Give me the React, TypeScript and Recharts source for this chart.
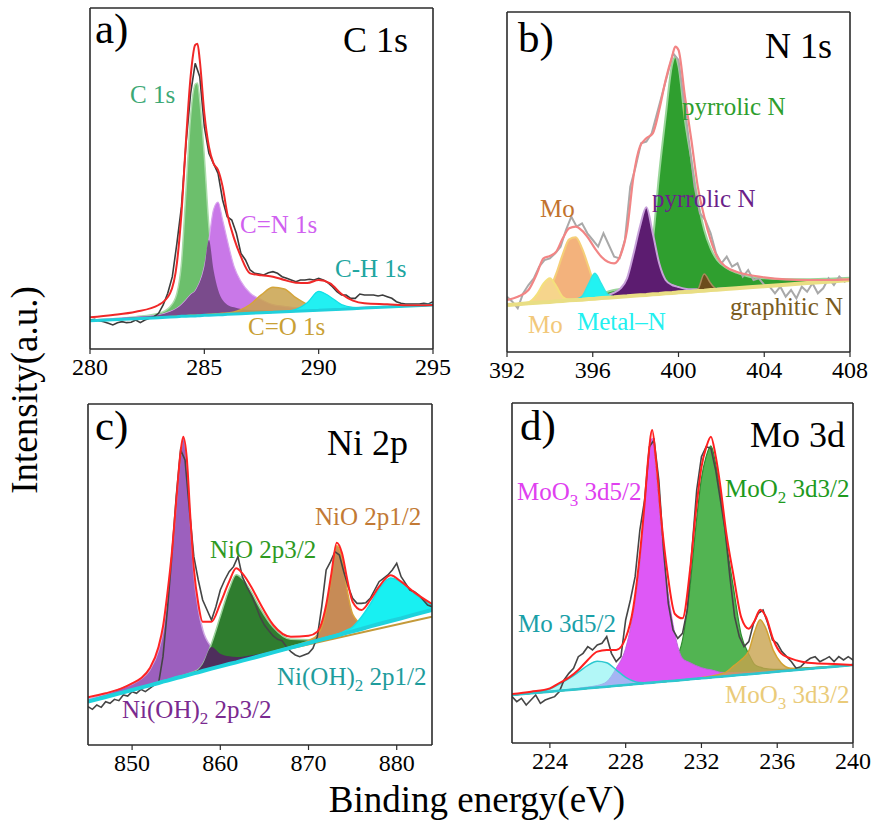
import React from 'react';
import { ComposedChart, XAxis, YAxis, Area, Line } from 'recharts';

const FONT = "'Liberation Serif', 'Times New Roman', Times, serif";
const AX = '#2b2b2b';

// ---------------- Panel a: C 1s ----------------
const A_E = [280, 281, 282, 283, 283.5, 283.8, 284, 284.2, 284.4, 284.6, 284.7, 284.8, 285, 285.2, 285.4, 285.6, 285.8, 286, 286.3, 286.6, 287, 287.5, 288, 288.5, 289, 289.5, 290, 290.5, 291, 291.5, 292, 293, 294, 295];
const A_BASE = [8.5, 8.8, 9.1, 9.4, 9.6, 9.7, 9.8, 9.8, 9.9, 9.9, 10.0, 10.0, 10.1, 10.1, 10.2, 10.3, 10.3, 10.4, 10.5, 10.6, 10.7, 10.9, 11.0, 11.2, 11.3, 11.5, 11.6, 11.8, 11.9, 12.1, 12.3, 12.6, 12.9, 13.2];
const A_C1S = [0.2, 0.3, 0.6, 1.3, 3.1, 7.0, 16.0, 37.9, 59.9, 69.5, 69.8, 64.7, 47.7, 26.6, 13.6, 7.5, 4.4, 2.9, 2.0, 1.4, 1.0, 0.7, 0.5, 0.4, 0.3, 0.3, 0.2, 0.2, 0.2, 0.1, 0.1, 0.1, 0.1, 0.1];
const A_CN = [0.2, 0.3, 0.5, 0.8, 1.6, 2.5, 3.5, 4.9, 6.4, 7.5, 8.6, 10.0, 14.5, 22.6, 31.6, 33.8, 28.4, 22.4, 14.3, 9.7, 6.1, 3.9, 2.3, 1.6, 1.1, 0.8, 0.6, 0.5, 0.4, 0.3, 0.3, 0.2, 0.2, 0.1];
const A_CO = [0, 0, 0.1, 0.1, 0.1, 0.1, 0.1, 0.2, 0.2, 0.2, 0.2, 0.2, 0.2, 0.3, 0.3, 0.3, 0.4, 0.4, 0.6, 1.2, 2.6, 5.4, 7.5, 6.8, 4.1, 1.9, 0.8, 0.4, 0.2, 0.1, 0.1, 0, 0, 0];
const A_CH = [0, 0, 0, 0, 0, 0, 0, 0, 0, 0, 0, 0, 0, 0, 0, 0, 0, 0, 0, 0, 0, 0, 0, 0.1, 0.6, 2.4, 5.7, 3.9, 1.4, 0.4, 0.1, 0, 0, 0];
const A_FIT = [9.5, 10.2, 11.2, 13.2, 16.7, 25.7, 40.7, 62.7, 81.7, 91.2, 91.6, 86.7, 70.7, 60.7, 55.7, 53.7, 48.7, 40.7, 33.2, 27.7, 22.7, 22.1, 21.7, 20.7, 19.9, 19.8, 20.7, 19.7, 16.5, 14.5, 13.7, 13.4, 13.1, 13.2];
const A_RAW_E = [280, 280.2, 280.4, 280.6, 280.8, 281, 281.2, 281.4, 281.6, 281.8, 282, 282.2, 282.4, 282.6, 282.8, 283, 283.2, 283.4, 283.6, 283.8, 284, 284.2, 284.4, 284.6, 284.8, 285, 285.2, 285.4, 285.6, 285.8, 286, 286.2, 286.4, 286.6, 286.8, 287, 287.2, 287.4, 287.6, 287.8, 288, 288.2, 288.4, 288.6, 288.8, 289, 289.2, 289.4, 289.6, 289.8, 290, 290.2, 290.4, 290.6, 290.8, 291, 291.2, 291.4, 291.6, 291.8, 292, 292.2, 292.4, 292.6, 292.8, 293, 293.2, 293.4, 293.6, 293.8, 294, 294.2, 294.4, 294.6, 294.8, 295];
const A_RAW = [8.7, 8.9, 8.5, 8.2, 7.7, 7.2, 7.9, 8.2, 7.9, 8.0, 8.7, 7.9, 8.7, 9.2, 9.7, 10.7, 13.2, 16.7, 21.7, 31.7, 42.7, 61.7, 76.7, 85.7, 81.7, 66.7, 58.7, 55.7, 52.7, 44.7, 39.7, 38.7, 34.7, 28.7, 26.7, 23.7, 22.7, 22.5, 22.2, 22.9, 23.2, 22.7, 21.7, 21.2, 20.7, 20.2, 20.7, 20.7, 20.9, 20.7, 21.2, 20.7, 19.9, 18.7, 17.2, 16.2, 16.2, 15.2, 15.2, 16.5, 16.2, 16.2, 16.2, 15.9, 16.2, 15.7, 15.2, 14.2, 13.7, 13.5, 13.5, 13.5, 13.5, 13.7, 13.5, 14.2];
const A_OVER = A_C1S.map((v, i) => Math.min(v, A_CN[i]));
const A_MAJOR = [280, 285, 290, 295];
const A_MINOR = [282.5, 287.5, 292.5];
const A_TOP = [282.5, 285, 287.5, 290, 292.5];
const A_YTICKS = [13.6, 27.2, 40.8, 54.4, 68.0, 81.6, 95.2];

// ---------------- Panel b: N 1s ----------------
const B_E = [392, 392.5, 393, 393.4, 393.7, 394, 394.3, 394.6, 394.9, 395.2, 395.5, 395.8, 396.1, 396.4, 396.7, 397, 397.3, 397.6, 397.9, 398.2, 398.5, 398.8, 399.1, 399.4, 399.7, 399.85, 400, 400.3, 400.6, 400.9, 401.2, 401.5, 401.8, 402.2, 402.7, 403.3, 404, 405, 406, 407, 408];
const B_BASE = [14.1, 14.3, 14.6, 14.8, 14.9, 15.0, 15.2, 15.3, 15.5, 15.6, 15.7, 15.9, 16.0, 16.2, 16.3, 16.4, 16.6, 16.7, 16.9, 17.0, 17.1, 17.3, 17.4, 17.6, 17.7, 17.8, 17.9, 18.0, 18.1, 18.3, 18.4, 18.6, 18.7, 18.9, 19.1, 19.4, 19.7, 20.2, 20.7, 21.1, 21.6];
const B_MO1 = [0, 0.1, 0.3, 2.5, 5.6, 7.1, 4.5, 1.2, 0.2, 0, 0, 0, 0, 0, 0, 0, 0, 0, 0, 0, 0, 0, 0, 0, 0, 0, 0, 0, 0, 0, 0, 0, 0, 0, 0, 0, 0, 0, 0, 0, 0];
const B_MO2 = [0, 0, 0.1, 0.4, 1.5, 4.0, 8.4, 14.0, 18.3, 18.8, 15.4, 9.7, 4.0, 1.2, 0.3, 0, 0, 0, 0, 0, 0, 0, 0, 0, 0, 0, 0, 0, 0, 0, 0, 0, 0, 0, 0, 0, 0, 0, 0, 0, 0];
const B_MN = [0, 0, 0, 0, 0, 0, 0, 0, 0, 0.2, 1.0, 4.5, 7.6, 4.3, 1.0, 0.2, 0, 0, 0, 0, 0, 0, 0, 0, 0, 0, 0, 0, 0, 0, 0, 0, 0, 0, 0, 0, 0, 0, 0, 0, 0];
const B_PG = [0.1, 0.1, 0.1, 0.2, 0.2, 0.2, 0.3, 0.3, 0.4, 0.4, 0.5, 0.7, 1.0, 1.5, 1.8, 2.2, 2.4, 3.1, 3.7, 5.1, 7.5, 16.3, 36.2, 53.0, 68.5, 70.8, 67.8, 51.6, 39.5, 27.3, 18.2, 12.5, 8.9, 6.5, 4.7, 3.2, 2.4, 1.6, 1.1, 0.9, 0.7];
const B_PP = [0, 0, 0.1, 0.2, 0.2, 0.2, 0.2, 0.3, 0.3, 0.3, 0.3, 0.4, 0.4, 0.5, 0.8, 1.4, 2.5, 5.4, 12.5, 20.6, 26.3, 18.3, 9.2, 4.0, 2.4, 2.0, 1.6, 1.0, 0.7, 0.5, 0.4, 0.3, 0.3, 0.2, 0.1, 0.1, 0.1, 0.1, 0.1, 0.1, 0.1];
const B_GN = [0, 0, 0, 0, 0, 0, 0, 0, 0, 0, 0, 0, 0, 0, 0, 0, 0, 0, 0, 0, 0, 0, 0, 0, 0, 0, 0, 0, 0.1, 0.5, 5.0, 2.0, 0.2, 0, 0, 0, 0, 0, 0, 0, 0];
const B_FIT = [15.6, 16.6, 18.6, 23.6, 28.1, 28.8, 30.1, 34.1, 37.1, 37.6, 36.4, 34.1, 31.1, 28.6, 27.1, 26.6, 29.1, 36.6, 52.6, 61.6, 64.1, 65.6, 72.6, 81.6, 88.6, 91.6, 90.6, 76.6, 63.6, 49.6, 40.6, 33.6, 28.6, 25.6, 24.1, 23.1, 22.4, 21.8, 21.6, 21.6, 21.8];
const B_RAW_E = [392, 392.25, 392.5, 392.75, 393, 393.25, 393.5, 393.75, 394, 394.25, 394.5, 394.75, 395, 395.25, 395.5, 395.75, 396, 396.25, 396.5, 396.75, 397, 397.25, 397.5, 397.75, 398, 398.25, 398.5, 398.75, 399, 399.25, 399.5, 399.75, 400, 400.25, 400.5, 400.75, 401, 401.25, 401.5, 401.75, 402, 402.25, 402.5, 402.75, 403, 403.25, 403.5, 403.75, 404, 404.25, 404.5, 404.75, 405, 405.25, 405.5, 405.75, 406, 406.25, 406.5, 406.75, 407, 407.25, 407.5, 407.75, 408];
const B_RAW = [16.6, 15.1, 13.1, 17.6, 20.1, 22.1, 25.6, 27.6, 28.1, 29.6, 31.6, 36.6, 40.6, 37.6, 38.6, 35.6, 33.6, 31.6, 35.6, 32.1, 28.6, 28.1, 33.6, 49.6, 55.6, 62.6, 63.1, 65.6, 71.6, 77.6, 83.6, 89.6, 87.6, 75.6, 62.6, 49.6, 41.6, 39.6, 35.6, 29.6, 26.6, 28.6, 25.6, 26.6, 22.6, 24.6, 21.6, 22.1, 20.1, 19.6, 17.6, 19.6, 16.6, 18.6, 16.1, 19.6, 18.1, 20.6, 17.6, 19.1, 22.1, 20.1, 22.6, 21.1, 22.1];
const B_MAJOR = [392, 396, 400, 404, 408];
const B_MINOR = [394, 398, 402, 406];
const B_TOP = [394, 396, 398, 400, 402, 404, 406];
const B_YTICKS = [15.1, 31.0, 46.9, 62.8, 78.7, 94.6];

// ---------------- Panel c: Ni 2p ----------------
const C_E = [845, 847, 849, 850, 851, 852, 853, 853.5, 854, 854.5, 855, 855.5, 855.8, 856.2, 856.6, 857, 857.5, 858, 859, 860, 861, 861.8, 862.5, 863.5, 864.5, 866, 868, 870, 871, 872, 872.6, 873.2, 873.8, 874.4, 875, 876, 877, 878, 879.3, 880.5, 882, 884];
const C_BASE = [13.0, 14.4, 15.8, 16.5, 17.2, 17.9, 18.6, 19.0, 19.3, 19.7, 20.1, 20.4, 20.6, 20.9, 21.2, 21.5, 21.8, 22.2, 22.9, 23.6, 24.3, 24.8, 25.3, 26.0, 26.7, 27.8, 29.2, 30.6, 31.3, 32.0, 32.4, 32.8, 33.3, 33.7, 34.1, 34.8, 35.6, 36.3, 37.2, 38.0, 39.1, 40.5];
const C_P32 = [0.7, 0.9, 1.4, 1.8, 2.6, 4.6, 9.8, 15.0, 25.0, 37.0, 52.0, 67.0, 71.5, 64.0, 46.0, 30.0, 19.0, 12.5, 6.5, 3.8, 2.3, 1.6, 1.2, 0.9, 0.7, 0.5, 0.3, 0.2, 0.1, 0.1, 0.1, 0.1, 0.1, 0.1, 0.1, 0.1, 0, 0, 0, 0, 0, 0];
const C_N32 = [0, 0, 0.1, 0.1, 0.1, 0.1, 0.2, 0.2, 0.2, 0.2, 0.2, 0.3, 0.3, 0.3, 0.4, 0.5, 0.8, 2.0, 7.5, 15.0, 22.5, 26.3, 24.6, 20.0, 14.4, 7.5, 2.5, 1.0, 0.6, 0.4, 0.3, 0.3, 0.3, 0.2, 0.2, 0.2, 0.1, 0.1, 0.1, 0.1, 0.1, 0.1];
const C_N12 = [0, 0, 0, 0, 0, 0, 0, 0, 0, 0, 0, 0, 0, 0, 0, 0, 0, 0, 0, 0, 0.1, 0.1, 0.1, 0.1, 0.2, 0.2, 0.3, 0.7, 1.7, 8.5, 18.0, 27.0, 22.7, 12.5, 5.2, 1.8, 0.8, 0.5, 0.3, 0.2, 0.2, 0.1];
const C_H12 = [0, 0, 0, 0, 0, 0, 0, 0, 0, 0, 0, 0, 0, 0, 0, 0, 0, 0, 0, 0, 0, 0, 0, 0, 0, 0.1, 0.1, 0.2, 0.2, 0.3, 0.35, 0.4, 0.5, 0.8, 1.3, 3.6, 6.7, 10.5, 12.9, 10.8, 6.3, 1.5];
const C_FIT = [14.3, 15.5, 17.2, 18.5, 20.0, 23.0, 29.5, 35.5, 45.5, 57.5, 73.0, 88.0, 92.5, 86.0, 68.5, 53.0, 42.5, 37.0, 37.0, 42.5, 49.0, 53.0, 51.5, 47.5, 42.5, 36.0, 32.5, 32.8, 34.0, 42.0, 51.5, 60.7, 57.5, 49.5, 43.0, 40.5, 43.5, 47.5, 50.9, 49.0, 45.8, 42.3];
const C_GOLD_E = [866, 884];
const C_GOLD = [27.8, 38.5];
const C_RAW_E = [845, 845.5, 846, 846.5, 847, 847.5, 848, 848.5, 849, 849.5, 850, 850.5, 851, 851.5, 852, 852.5, 853, 853.5, 854, 854.5, 855, 855.5, 856, 856.5, 857, 857.5, 858, 858.5, 859, 859.5, 860, 860.5, 861, 861.5, 862, 862.5, 863, 863.5, 864, 864.5, 865, 865.5, 866, 866.5, 867, 867.5, 868, 868.5, 869, 869.5, 870, 870.5, 871, 871.5, 872, 872.5, 873, 873.5, 874, 874.5, 875, 875.5, 876, 876.5, 877, 877.5, 878, 878.5, 879, 879.5, 880, 880.5, 881, 881.5, 882, 882.5, 883, 883.5, 884];
const C_RAW = [11.5, 10.7, 12.0, 11.3, 13.0, 12.5, 13.7, 13.3, 15.0, 14.7, 16.0, 15.5, 16.7, 16.0, 17.0, 18.0, 18.5, 26.5, 40.5, 56.5, 74.5, 88.5, 85.5, 70.5, 56.5, 49.5, 43.5, 40.5, 37.5, 41.5, 46.5, 49.5, 52.0, 53.5, 56.5, 50.5, 47.5, 45.0, 42.0, 38.5, 36.0, 34.3, 32.7, 31.7, 31.3, 29.5, 28.0, 27.0, 26.5, 27.0, 27.5, 29.0, 32.5, 41.5, 52.5, 55.0, 58.0, 57.0, 52.0, 47.5, 44.0, 42.5, 42.5, 42.7, 44.0, 46.5, 49.0, 50.0, 51.0, 52.5, 54.5, 50.5, 48.5, 46.5, 46.0, 45.0, 43.5, 42.0, 41.5];
const C_OVER = C_P32.map((v, i) => Math.min(v, C_N32[i]));
const C_MAJOR = [850, 860, 870, 880];
const C_MINOR = [855, 865, 875];
const C_TOP = [850, 855, 860, 865, 870, 875, 880];
const C_YTICKS = [12, 24, 36, 48, 60, 72, 84, 96];

// ---------------- Panel d: Mo 3d ----------------
const D_E = [222, 223, 224, 224.5, 225, 225.5, 226, 226.5, 227, 227.5, 228, 228.4, 228.7, 229, 229.2, 229.4, 229.6, 229.9, 230.2, 230.6, 231, 231.4, 231.7, 232, 232.25, 232.5, 232.75, 233, 233.3, 233.7, 234.1, 234.5, 234.8, 235.1, 235.4, 235.8, 236.2, 236.7, 237.3, 238, 239, 240];
const D_BASE = [14.4, 14.9, 15.4, 15.65, 15.9, 16.15, 16.4, 16.65, 16.9, 17.15, 17.4, 17.6, 17.75, 17.9, 18.0, 18.1, 18.2, 18.35, 18.5, 18.7, 18.9, 19.1, 19.25, 19.4, 19.5, 19.65, 19.8, 19.9, 20.05, 20.25, 20.45, 20.65, 20.8, 20.95, 21.1, 21.3, 21.5, 21.75, 22.05, 22.4, 22.9, 23.4];
const D_MO = [0, 0.2, 0.8, 2.0, 3.4, 5.1, 6.9, 7.9, 7.2, 4.8, 2.3, 1.0, 0.4, 0.2, 0.15, 0.1, 0.1, 0.1, 0, 0, 0, 0, 0, 0, 0, 0, 0, 0, 0, 0, 0, 0, 0, 0, 0, 0, 0, 0, 0, 0, 0, 0];
const D_M52 = [0, 0.1, 0.1, 0.2, 0.2, 0.3, 0.4, 0.6, 1.5, 5.3, 11.0, 21.3, 33.2, 52.0, 66.4, 73.3, 62.7, 43.6, 28.4, 14.0, 6.5, 5.0, 4.0, 3.2, 2.7, 2.3, 1.8, 1.3, 1.1, 0.9, 0.75, 0.6, 0.5, 0.45, 0.4, 0.35, 0.3, 0.25, 0.2, 0.1, 0.1, 0.1];
const D_M32 = [0, 0, 0.1, 0.1, 0.1, 0.15, 0.2, 0.25, 0.3, 0.4, 0.5, 0.6, 0.8, 1.0, 1.3, 1.5, 1.9, 2.8, 4.4, 6.0, 12.0, 28.0, 45.5, 60.0, 66.5, 69.5, 64.0, 55.0, 41.0, 26.0, 12.0, 6.0, 2.8, 1.8, 1.2, 0.8, 0.6, 0.5, 0.4, 0.3, 0.2, 0.2];
const D_M33 = [0, 0, 0, 0, 0, 0, 0, 0, 0, 0, 0, 0, 0, 0, 0, 0, 0, 0, 0, 0, 0, 0, 0, 0.2, 0.3, 0.4, 0.5, 0.8, 1.2, 2.9, 4.5, 7.0, 12.5, 16.0, 13.3, 6.4, 2.6, 0.7, 0.3, 0.2, 0.1, 0.1];
const D_FIT = [14.7, 15.4, 16.4, 18.0, 19.6, 21.9, 24.9, 27.4, 27.9, 27.9, 31.5, 40.5, 53.9, 72.0, 85.9, 93.9, 84.9, 65.9, 51.3, 38.7, 37.4, 52.0, 69.0, 82.8, 88.7, 91.9, 86.1, 77.0, 63.4, 50.0, 37.7, 34.3, 36.6, 40.0, 37.9, 30.9, 26.9, 25.4, 24.4, 23.9, 23.7, 23.4];
const D_RAW_E = [222, 222.25, 222.5, 222.75, 223, 223.25, 223.5, 223.75, 224, 224.25, 224.5, 224.75, 225, 225.25, 225.5, 225.75, 226, 226.25, 226.5, 226.75, 227, 227.25, 227.5, 227.75, 228, 228.25, 228.5, 228.75, 229, 229.25, 229.5, 229.75, 230, 230.25, 230.5, 230.75, 231, 231.25, 231.5, 231.75, 232, 232.25, 232.5, 232.75, 233, 233.25, 233.5, 233.75, 234, 234.25, 234.5, 234.75, 235, 235.25, 235.5, 235.75, 236, 236.25, 236.5, 236.75, 237, 237.25, 237.5, 237.75, 238, 238.25, 238.5, 238.75, 239, 239.25, 239.5, 239.75, 240];
const D_RAW = [13.9, 12.4, 13.4, 11.4, 12.9, 14.4, 11.9, 12.9, 13.4, 13.9, 15.4, 18.9, 20.9, 22.4, 25.9, 26.9, 28.9, 27.9, 29.4, 29.9, 31.9, 26.9, 24.4, 25.9, 36.9, 42.9, 49.9, 63.9, 72.9, 88.9, 90.9, 78.9, 57.9, 41.9, 33.9, 31.4, 32.9, 39.9, 57.9, 75.9, 85.9, 88.9, 88.4, 81.9, 72.9, 63.9, 49.9, 37.9, 31.9, 28.9, 30.4, 35.9, 38.9, 39.9, 35.9, 30.9, 29.9, 27.4, 25.9, 24.4, 22.4, 22.9, 24.4, 25.4, 25.9, 24.4, 25.1, 25.9, 24.4, 25.9, 24.9, 25.9, 24.9];
const D_MAJOR = [224, 228, 232, 236, 240];
const D_MINOR = [226, 230, 234, 238];
const D_TOP = [224, 226, 228, 230, 232, 234, 236, 238];
const D_YTICKS = [17.0, 34.1, 51.2, 68.3, 85.4];

type Comp = { key: string; vals: number[]; fill: string; stroke: string; fillOpacity?: number; strokeWidth?: number };
type ExtraLine = { e: number[]; v: number[]; color: string; width: number };
type PanelCfg = {
  left: number; top: number; width: number; height: number;
  xDomain: [number, number]; yMax: number;
  major: number[]; minor: number[]; topTicks: number[]; yTicks: number[];
  energy: number[]; base: number[]; fit: number[]; comps: Comp[];
  rawE: number[]; raw: number[];
  rawColor: string; rawWidth: number; fitColor: string; fitWidth: number;
  baseColor: string; baseWidth: number; extra?: ExtraLine;
};

// outer offsets of the plot box inside each chart svg
const PAD = { top: 20, right: 30, bottom: 50, left: 30 };
// margins exclude the 1px boxes that the axes occupy
const MARGIN = { top: PAD.top - 1, right: PAD.right - 1, bottom: PAD.bottom - 2, left: PAD.left - 1 };

const TickLabel = (props: any) => (
  <text x={props.x} y={props.y} dy="0.71em" textAnchor="middle" fontFamily={FONT} fontSize={24} fill="#000">
    {props.payload.value}
  </text>
);

function Panel(p: PanelCfg) {
  const rows = p.energy.map((x, i) => {
    const r: Record<string, any> = { x, base: p.base[i], fit: p.fit[i] };
    p.comps.forEach((c) => {
      r[c.key] = [p.base[i], +(p.base[i] + c.vals[i]).toFixed(2)];
    });
    return r;
  });
  const rawRows = p.rawE.map((x, i) => ({ x, y: p.raw[i] }));
  const extraRows = p.extra ? p.extra.e.map((x, i) => ({ x, g: p.extra!.v[i] })) : [];
  const axisLine = { stroke: AX, strokeWidth: 1.6 };
  const tickLine = { stroke: AX, strokeWidth: 1.2 };
  return (
    <div style={{ position: 'absolute', left: p.left - PAD.left, top: p.top - PAD.top }}>
      <ComposedChart width={p.width + PAD.left + PAD.right} height={p.height + PAD.top + PAD.bottom} data={rows} margin={MARGIN}>
        <XAxis xAxisId="b" dataKey="x" type="number" domain={p.xDomain} allowDataOverflow ticks={p.major} interval={0}
          height={1} tickSize={5} tickMargin={4} axisLine={axisLine} tickLine={tickLine} tick={TickLabel} />
        <XAxis xAxisId="m" dataKey="x" type="number" domain={p.xDomain} allowDataOverflow ticks={p.minor} interval={0}
          height={1} tickSize={2} axisLine={false} tickLine={tickLine} tick={false} />
        <XAxis xAxisId="t" orientation="top" dataKey="x" type="number" domain={p.xDomain} allowDataOverflow ticks={p.topTicks} interval={0}
          height={1} tickSize={-4} axisLine={axisLine} tickLine={tickLine} tick={false} />
        <YAxis yAxisId="l" type="number" domain={[0, p.yMax]} allowDataOverflow ticks={p.yTicks} interval={0}
          width={1} tickSize={4} axisLine={axisLine} tickLine={tickLine} tick={false} />
        <YAxis yAxisId="r" orientation="right" type="number" domain={[0, p.yMax]} allowDataOverflow ticks={p.yTicks} interval={0}
          width={1} tickSize={-4} axisLine={axisLine} tickLine={tickLine} tick={false} />
        {p.comps.map((c) => (
          <Area key={c.key} xAxisId="b" yAxisId="l" dataKey={c.key} type="monotone" fill={c.fill}
            fillOpacity={c.fillOpacity ?? 1} stroke={c.stroke} strokeWidth={c.strokeWidth ?? 1.5}
            dot={false} activeDot={false} isAnimationActive={false} />
        ))}
        {p.extra && (
          <Line xAxisId="b" yAxisId="l" data={extraRows} dataKey="g" type="linear" stroke={p.extra.color}
            strokeWidth={p.extra.width} dot={false} activeDot={false} isAnimationActive={false} />
        )}
        <Line xAxisId="b" yAxisId="l" data={rawRows} dataKey="y" type="linear" stroke={p.rawColor}
          strokeWidth={p.rawWidth} dot={false} activeDot={false} isAnimationActive={false} />
        <Line xAxisId="b" yAxisId="l" dataKey="base" type="linear" stroke={p.baseColor}
          strokeWidth={p.baseWidth} dot={false} activeDot={false} isAnimationActive={false} />
        <Line xAxisId="b" yAxisId="l" dataKey="fit" type="monotone" stroke={p.fitColor}
          strokeWidth={p.fitWidth} dot={false} activeDot={false} isAnimationActive={false} />
      </ComposedChart>
    </div>
  );
}

const PANEL_A: PanelCfg = {
  left: 89.5, top: 8, width: 343, height: 341, xDomain: [280, 295], yMax: 102.3,
  major: A_MAJOR, minor: A_MINOR, topTicks: A_TOP, yTicks: A_YTICKS,
  energy: A_E, base: A_BASE, fit: A_FIT,
  comps: [
    { key: 'c1s', vals: A_C1S, fill: '#6cbf6c', stroke: '#a9dca9', strokeWidth: 1.5 },
    { key: 'cn', vals: A_CN, fill: '#c978e8', stroke: '#d9a6ee', strokeWidth: 1.2 },
    { key: 'over', vals: A_OVER, fill: '#7a4b8c', stroke: 'none' },
    { key: 'co', vals: A_CO, fill: '#c9a24c', fillOpacity: 0.85, stroke: '#d4a53a', strokeWidth: 1.5 },
    { key: 'ch', vals: A_CH, fill: '#22f0f2', stroke: '#10dfe6', strokeWidth: 1.2 },
  ],
  rawE: A_RAW_E, raw: A_RAW, rawColor: '#3c3c3c', rawWidth: 1.6, fitColor: '#f02828', fitWidth: 2,
  baseColor: '#1fd0dc', baseWidth: 3,
};

const PANEL_B: PanelCfg = {
  left: 507, top: 12, width: 343, height: 340, xDomain: [392, 408], yMax: 102,
  major: B_MAJOR, minor: B_MINOR, topTicks: B_TOP, yTicks: B_YTICKS,
  energy: B_E, base: B_BASE, fit: B_FIT,
  comps: [
    { key: 'pg', vals: B_PG, fill: '#2f9f2f', stroke: '#9ad69a', strokeWidth: 2 },
    { key: 'pp', vals: B_PP, fill: '#5c1c70', stroke: '#c8a2da', strokeWidth: 2 },
    { key: 'mo2', vals: B_MO2, fill: '#f3b27c', stroke: '#f5cf78', strokeWidth: 2 },
    { key: 'mo1', vals: B_MO1, fill: '#f6d58c', stroke: '#f4e07c', strokeWidth: 2 },
    { key: 'mn', vals: B_MN, fill: '#22f2f2', stroke: '#30e6e6', strokeWidth: 1.5 },
    { key: 'gn', vals: B_GN, fill: '#6c4c1c', stroke: '#a88a5c', strokeWidth: 1.5 },
  ],
  rawE: B_RAW_E, raw: B_RAW, rawColor: '#a9a9a9', rawWidth: 2, fitColor: '#f28585', fitWidth: 2.2,
  baseColor: '#e9de84', baseWidth: 4,
};

const PANEL_C: PanelCfg = {
  left: 88, top: 404, width: 344, height: 341, xDomain: [845, 884], yMax: 102.3,
  major: C_MAJOR, minor: C_MINOR, topTicks: C_TOP, yTicks: C_YTICKS,
  energy: C_E, base: C_BASE, fit: C_FIT,
  comps: [
    { key: 'p32', vals: C_P32, fill: '#9c60be', stroke: '#cfa8e2', strokeWidth: 1.5 },
    { key: 'n32', vals: C_N32, fill: '#2f7d2f', stroke: '#9ad29a', strokeWidth: 1.5 },
    { key: 'over', vals: C_OVER, fill: '#4e2e5c', stroke: 'none' },
    { key: 'n12', vals: C_N12, fill: '#c78b56', stroke: '#d8a23c', strokeWidth: 1.5 },
    { key: 'h12', vals: C_H12, fill: '#18f0f2', stroke: '#18e0e6', strokeWidth: 1.5 },
  ],
  rawE: C_RAW_E, raw: C_RAW, rawColor: '#454545', rawWidth: 1.6, fitColor: '#ff2424', fitWidth: 2,
  baseColor: '#1ed2dc', baseWidth: 4,
  extra: { e: C_GOLD_E, v: C_GOLD, color: '#c49a3a', width: 2 },
};

const PANEL_D: PanelCfg = {
  left: 512, top: 403, width: 341, height: 340, xDomain: [222, 240], yMax: 102,
  major: D_MAJOR, minor: D_MINOR, topTicks: D_TOP, yTicks: D_YTICKS,
  energy: D_E, base: D_BASE, fit: D_FIT,
  comps: [
    { key: 'm32', vals: D_M32, fill: '#52b452', stroke: '#2e8b2e', strokeWidth: 1.2 },
    { key: 'm52', vals: D_M52, fill: '#de58f6', stroke: '#c064e0', strokeWidth: 1 },
    { key: 'm33', vals: D_M33, fill: '#c8a24e', fillOpacity: 0.8, stroke: '#d2a232', strokeWidth: 1.5 },
    { key: 'mo', vals: D_MO, fill: '#7ff2f2', fillOpacity: 0.6, stroke: '#2cc8d0', strokeWidth: 1.5 },
  ],
  rawE: D_RAW_E, raw: D_RAW, rawColor: '#464646', rawWidth: 1.6, fitColor: '#ff2020', fitWidth: 2,
  baseColor: '#2ec6d0', baseWidth: 2.5,
};

const LBL = 25;

export default function App() {
  return (
    <div style={{ position: 'absolute', left: 0, top: 0, width: 872, height: 823, background: '#fff', overflow: 'hidden', fontFamily: FONT }}>
      <Panel {...PANEL_A} />
      <Panel {...PANEL_B} />
      <Panel {...PANEL_C} />
      <Panel {...PANEL_D} />
      <svg width={872} height={823} style={{ position: 'absolute', left: 0, top: 0, pointerEvents: 'none' }} fontFamily={FONT}>
        {/* panel a */}
        <text x={95} y={43} fontSize={43} fill="#000">a)</text>
        <text x={408} y={52} fontSize={36} fill="#000" textAnchor="end">C 1s</text>
        <text x={130} y={103} fontSize={LBL} fill="#3ca875">C 1s</text>
        <text x={240} y={233} fontSize={LBL} fill="#d060f0">C=N 1s</text>
        <text x={335} y={277} fontSize={LBL} fill="#20a5a0">C-H 1s</text>
        <text x={248} y={335} fontSize={LBL} fill="#c9a035">C=O 1s</text>
        {/* panel b */}
        <text x={518} y={52} fontSize={43} fill="#000">b)</text>
        <text x={832} y={58} fontSize={36} fill="#000" textAnchor="end">N 1s</text>
        <text x={682} y={115} fontSize={LBL} fill="#2e9e2e">pyrrolic N</text>
        <text x={652} y={207} fontSize={LBL} fill="#6b1f8a">pyrrolic N</text>
        <text x={540} y={217} fontSize={LBL} fill="#c2732e">Mo</text>
        <text x={528} y={333} fontSize={LBL} fill="#f2c87a">Mo</text>
        <text x={577} y={330} fontSize={LBL} fill="#22f0f0">Metal–N</text>
        <text x={730} y={315} fontSize={LBL} fill="#7a5c1e">graphitic N</text>
        {/* panel c */}
        <text x={95} y={440} fontSize={43} fill="#000">c)</text>
        <text x={408} y={455} fontSize={36} fill="#000" textAnchor="end">Ni 2p</text>
        <text x={315} y={525} fontSize={LBL} fill="#c27a35">NiO 2p1/2</text>
        <text x={210} y={558} fontSize={LBL} fill="#2f9a1f">NiO 2p3/2</text>
        <text x={277} y={685} fontSize={LBL} fill="#1e9c9c">Ni(OH)<tspan dy={6} fontSize={17}>2</tspan><tspan dy={-6}> 2p1/2</tspan></text>
        <text x={122} y={718} fontSize={LBL} fill="#7a2a90">Ni(OH)<tspan dy={6} fontSize={17}>2</tspan><tspan dy={-6}> 2p3/2</tspan></text>
        {/* panel d */}
        <text x={520} y={440} fontSize={43} fill="#000">d)</text>
        <text x={845} y={447} fontSize={36} fill="#000" textAnchor="end">Mo 3d</text>
        <text x={517} y={500} fontSize={LBL} fill="#e040f0">MoO<tspan dy={6} fontSize={17}>3</tspan><tspan dy={-6}> 3d5/2</tspan></text>
        <text x={725} y={497} fontSize={LBL} fill="#1e9a1e">MoO<tspan dy={6} fontSize={17}>2</tspan><tspan dy={-6}> 3d3/2</tspan></text>
        <text x={518} y={632} fontSize={LBL} fill="#1aa0a8">Mo 3d5/2</text>
        <text x={725} y={703} fontSize={LBL} fill="#eacb7a">MoO<tspan dy={6} fontSize={17}>3</tspan><tspan dy={-6}> 3d3/2</tspan></text>
        {/* axis titles */}
        <text x={477} y={812} fontSize={37} fill="#000" textAnchor="middle">Binding energy(eV)</text>
        <text x={0} y={0} fontSize={37} fill="#000" textAnchor="middle" transform="translate(37,390) rotate(-90)">Intensity(a.u.)</text>
      </svg>
    </div>
  );
}
